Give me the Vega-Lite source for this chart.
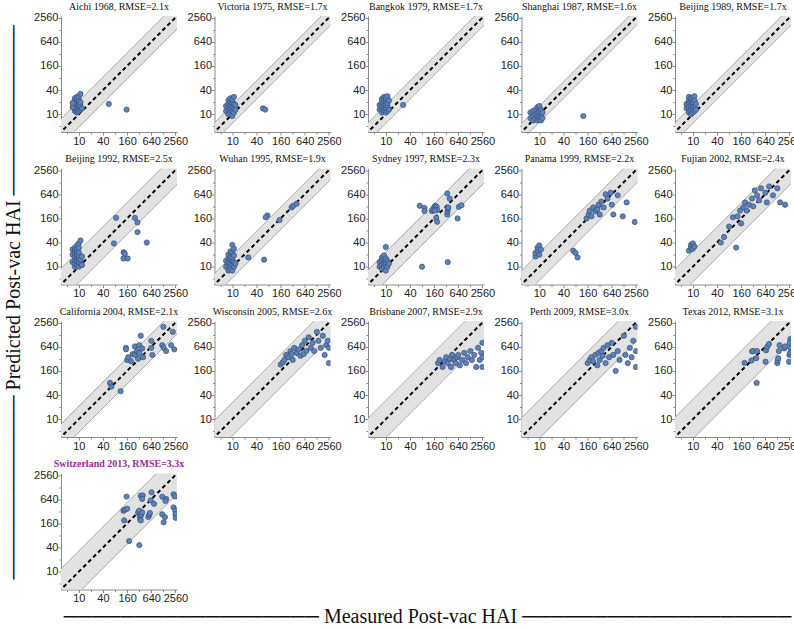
{
"$schema": "https://vega.github.io/schema/vega-lite/v6.json",
"padding": {"left": 3, "top": 1, "right": 0, "bottom": 0},
"title": {"text": "────────────────── Measured Post-vac HAI ───────────────────", "orient": "bottom", "anchor": "middle", "font": "Liberation Serif, DejaVu Sans", "fontSize": 20, "fontWeight": "normal", "color": "#111", "offset": 3, "dx": 25},
"vconcat": [{
"title": {"text": "───────────── Predicted Post-vac HAI ────────────", "orient": "left", "anchor": "middle", "font": "Liberation Serif, DejaVu Sans", "fontSize": 20, "fontWeight": "normal", "color": "#111", "offset": 10},
"data": {"values": [
{"p":1,"bx":1,"lo":0.476,"hi":2.1},{"p":1,"bx":10000,"lo":4762,"hi":21000},
{"p":2,"bx":1,"lo":0.588,"hi":1.7},{"p":2,"bx":10000,"lo":5882,"hi":17000},
{"p":3,"bx":1,"lo":0.588,"hi":1.7},{"p":3,"bx":10000,"lo":5882,"hi":17000},
{"p":4,"bx":1,"lo":0.625,"hi":1.6},{"p":4,"bx":10000,"lo":6250,"hi":16000},
{"p":5,"bx":1,"lo":0.588,"hi":1.7},{"p":5,"bx":10000,"lo":5882,"hi":17000},
{"p":6,"bx":1,"lo":0.4,"hi":2.5},{"p":6,"bx":10000,"lo":4000,"hi":25000},
{"p":7,"bx":1,"lo":0.526,"hi":1.9},{"p":7,"bx":10000,"lo":5263,"hi":19000},
{"p":8,"bx":1,"lo":0.435,"hi":2.3},{"p":8,"bx":10000,"lo":4348,"hi":23000},
{"p":9,"bx":1,"lo":0.455,"hi":2.2},{"p":9,"bx":10000,"lo":4545,"hi":22000},
{"p":10,"bx":1,"lo":0.417,"hi":2.4},{"p":10,"bx":10000,"lo":4167,"hi":24000},
{"p":11,"bx":1,"lo":0.476,"hi":2.1},{"p":11,"bx":10000,"lo":4762,"hi":21000},
{"p":12,"bx":1,"lo":0.385,"hi":2.6},{"p":12,"bx":10000,"lo":3846,"hi":26000},
{"p":13,"bx":1,"lo":0.345,"hi":2.9},{"p":13,"bx":10000,"lo":3448,"hi":29000},
{"p":14,"bx":1,"lo":0.333,"hi":3.0},{"p":14,"bx":10000,"lo":3333,"hi":30000},
{"p":15,"bx":1,"lo":0.323,"hi":3.1},{"p":15,"bx":10000,"lo":3226,"hi":31000},
{"p":16,"bx":1,"lo":0.303,"hi":3.3},{"p":16,"bx":10000,"lo":3030,"hi":33000},
{"p":1,"x":8,"y":12},{"p":1,"x":8,"y":14},{"p":1,"x":8,"y":16},{"p":1,"x":8,"y":18},{"p":1,"x":8,"y":20},{"p":1,"x":8,"y":22},{"p":1,"x":8,"y":25},{"p":1,"x":9,"y":11},{"p":1,"x":9,"y":13},{"p":1,"x":9,"y":15},{"p":1,"x":9,"y":17},{"p":1,"x":9,"y":19},{"p":1,"x":9,"y":21},{"p":1,"x":9,"y":24},{"p":1,"x":9,"y":27},{"p":1,"x":10,"y":12},{"p":1,"x":10,"y":14},{"p":1,"x":10,"y":16},{"p":1,"x":10,"y":18},{"p":1,"x":10,"y":22},{"p":1,"x":10,"y":28},{"p":1,"x":11,"y":13},{"p":1,"x":11,"y":16},{"p":1,"x":11,"y":20},{"p":1,"x":11,"y":32},{"p":1,"x":7,"y":15},{"p":1,"x":7,"y":19},{"p":1,"x":12,"y":14},{"p":1,"x":56,"y":18},{"p":1,"x":155,"y":13},
{"p":2,"x":7,"y":12},{"p":2,"x":7,"y":16},{"p":2,"x":8,"y":10},{"p":2,"x":8,"y":13},{"p":2,"x":8,"y":15},{"p":2,"x":8,"y":18},{"p":2,"x":8,"y":22},{"p":2,"x":9,"y":11},{"p":2,"x":9,"y":14},{"p":2,"x":9,"y":17},{"p":2,"x":9,"y":20},{"p":2,"x":9,"y":25},{"p":2,"x":10,"y":9},{"p":2,"x":10,"y":12},{"p":2,"x":10,"y":15},{"p":2,"x":10,"y":19},{"p":2,"x":10,"y":23},{"p":2,"x":11,"y":11},{"p":2,"x":11,"y":14},{"p":2,"x":11,"y":18},{"p":2,"x":11,"y":27},{"p":2,"x":12,"y":13},{"p":2,"x":12,"y":17},{"p":2,"x":58,"y":14},{"p":2,"x":66,"y":13},
{"p":3,"x":7,"y":13},{"p":3,"x":7,"y":17},{"p":3,"x":8,"y":11},{"p":3,"x":8,"y":14},{"p":3,"x":8,"y":16},{"p":3,"x":8,"y":20},{"p":3,"x":8,"y":24},{"p":3,"x":9,"y":12},{"p":3,"x":9,"y":15},{"p":3,"x":9,"y":18},{"p":3,"x":9,"y":22},{"p":3,"x":9,"y":27},{"p":3,"x":10,"y":11},{"p":3,"x":10,"y":14},{"p":3,"x":10,"y":17},{"p":3,"x":10,"y":21},{"p":3,"x":10,"y":25},{"p":3,"x":11,"y":12},{"p":3,"x":11,"y":16},{"p":3,"x":11,"y":19},{"p":3,"x":11,"y":28},{"p":3,"x":12,"y":13},{"p":3,"x":12,"y":22},{"p":3,"x":27,"y":17},
{"p":4,"x":6,"y":8},{"p":4,"x":6,"y":11},{"p":4,"x":7,"y":7},{"p":4,"x":7,"y":9},{"p":4,"x":7,"y":12},{"p":4,"x":8,"y":8},{"p":4,"x":8,"y":10},{"p":4,"x":8,"y":13},{"p":4,"x":9,"y":7},{"p":4,"x":9,"y":9},{"p":4,"x":9,"y":11},{"p":4,"x":9,"y":15},{"p":4,"x":10,"y":8},{"p":4,"x":10,"y":10},{"p":4,"x":10,"y":12},{"p":4,"x":10,"y":16},{"p":4,"x":11,"y":7},{"p":4,"x":11,"y":9},{"p":4,"x":11,"y":13},{"p":4,"x":12,"y":8},{"p":4,"x":12,"y":11},{"p":4,"x":125,"y":9},
{"p":5,"x":7,"y":14},{"p":5,"x":7,"y":18},{"p":5,"x":8,"y":11},{"p":5,"x":8,"y":15},{"p":5,"x":8,"y":19},{"p":5,"x":8,"y":23},{"p":5,"x":8,"y":27},{"p":5,"x":9,"y":10},{"p":5,"x":9,"y":13},{"p":5,"x":9,"y":16},{"p":5,"x":9,"y":21},{"p":5,"x":9,"y":25},{"p":5,"x":10,"y":11},{"p":5,"x":10,"y":14},{"p":5,"x":10,"y":17},{"p":5,"x":10,"y":20},{"p":5,"x":10,"y":26},{"p":5,"x":11,"y":12},{"p":5,"x":11,"y":15},{"p":5,"x":11,"y":22},{"p":5,"x":11,"y":28},{"p":5,"x":12,"y":13},{"p":5,"x":12,"y":18},
{"p":6,"x":7,"y":13},{"p":6,"x":7,"y":20},{"p":6,"x":7,"y":27},{"p":6,"x":8,"y":10},{"p":6,"x":8,"y":12},{"p":6,"x":8,"y":15},{"p":6,"x":8,"y":18},{"p":6,"x":8,"y":22},{"p":6,"x":8,"y":26},{"p":6,"x":8,"y":30},{"p":6,"x":9,"y":11},{"p":6,"x":9,"y":14},{"p":6,"x":9,"y":17},{"p":6,"x":9,"y":20},{"p":6,"x":9,"y":24},{"p":6,"x":9,"y":28},{"p":6,"x":9,"y":34},{"p":6,"x":10,"y":10},{"p":6,"x":10,"y":13},{"p":6,"x":10,"y":16},{"p":6,"x":10,"y":19},{"p":6,"x":10,"y":23},{"p":6,"x":10,"y":30},{"p":6,"x":10,"y":38},{"p":6,"x":11,"y":12},{"p":6,"x":11,"y":15},{"p":6,"x":11,"y":45},{"p":6,"x":12,"y":11},{"p":6,"x":12,"y":18},{"p":6,"x":85,"y":165},{"p":6,"x":75,"y":38},{"p":6,"x":250,"y":165},{"p":6,"x":290,"y":127},{"p":6,"x":290,"y":73},{"p":6,"x":131,"y":23},{"p":6,"x":140,"y":21},{"p":6,"x":130,"y":16},{"p":6,"x":165,"y":16},{"p":6,"x":494,"y":40},
{"p":7,"x":7,"y":10},{"p":7,"x":7,"y":14},{"p":7,"x":8,"y":8},{"p":7,"x":8,"y":11},{"p":7,"x":8,"y":13},{"p":7,"x":8,"y":16},{"p":7,"x":8,"y":20},{"p":7,"x":9,"y":9},{"p":7,"x":9,"y":12},{"p":7,"x":9,"y":15},{"p":7,"x":9,"y":18},{"p":7,"x":9,"y":24},{"p":7,"x":10,"y":8},{"p":7,"x":10,"y":11},{"p":7,"x":10,"y":14},{"p":7,"x":10,"y":17},{"p":7,"x":10,"y":22},{"p":7,"x":10,"y":35},{"p":7,"x":11,"y":10},{"p":7,"x":11,"y":13},{"p":7,"x":11,"y":19},{"p":7,"x":11,"y":28},{"p":7,"x":12,"y":12},{"p":7,"x":75,"y":190},{"p":7,"x":68,"y":170},{"p":7,"x":150,"y":145},{"p":7,"x":300,"y":300},{"p":7,"x":330,"y":330},{"p":7,"x":25,"y":17},{"p":7,"x":62,"y":15},{"p":7,"x":400,"y":370},
{"p":8,"x":7,"y":10},{"p":8,"x":7,"y":13},{"p":8,"x":8,"y":9},{"p":8,"x":8,"y":11},{"p":8,"x":8,"y":14},{"p":8,"x":8,"y":17},{"p":8,"x":9,"y":10},{"p":8,"x":9,"y":12},{"p":8,"x":9,"y":15},{"p":8,"x":9,"y":19},{"p":8,"x":10,"y":8},{"p":8,"x":10,"y":11},{"p":8,"x":10,"y":13},{"p":8,"x":10,"y":16},{"p":8,"x":11,"y":10},{"p":8,"x":11,"y":14},{"p":8,"x":12,"y":12},{"p":8,"x":10,"y":31},{"p":8,"x":80,"y":10},{"p":8,"x":350,"y":13},{"p":8,"x":70,"y":330},{"p":8,"x":92,"y":294},{"p":8,"x":92,"y":243},{"p":8,"x":142,"y":243},{"p":8,"x":150,"y":260},{"p":8,"x":160,"y":300},{"p":8,"x":170,"y":330},{"p":8,"x":175,"y":280},{"p":8,"x":185,"y":310},{"p":8,"x":190,"y":260},{"p":8,"x":165,"y":250},{"p":8,"x":180,"y":165},{"p":8,"x":190,"y":132},{"p":8,"x":340,"y":667},{"p":8,"x":390,"y":500},{"p":8,"x":340,"y":200},{"p":8,"x":345,"y":240},{"p":8,"x":350,"y":280},{"p":8,"x":360,"y":300},{"p":8,"x":615,"y":160},{"p":8,"x":660,"y":310},{"p":8,"x":770,"y":340},
{"p":9,"x":8,"y":18},{"p":9,"x":8,"y":22},{"p":9,"x":9,"y":25},{"p":9,"x":9,"y":30},{"p":9,"x":10,"y":20},{"p":9,"x":10,"y":34},{"p":9,"x":11,"y":27},{"p":9,"x":70,"y":25},{"p":9,"x":80,"y":22},{"p":9,"x":90,"y":17},{"p":9,"x":150,"y":160},{"p":9,"x":170,"y":200},{"p":9,"x":180,"y":250},{"p":9,"x":200,"y":180},{"p":9,"x":220,"y":300},{"p":9,"x":250,"y":240},{"p":9,"x":280,"y":270},{"p":9,"x":300,"y":350},{"p":9,"x":320,"y":200},{"p":9,"x":350,"y":420},{"p":9,"x":400,"y":300},{"p":9,"x":450,"y":640},{"p":9,"x":500,"y":500},{"p":9,"x":600,"y":700},{"p":9,"x":640,"y":350},{"p":9,"x":700,"y":200},{"p":9,"x":900,"y":600},{"p":9,"x":1200,"y":180},{"p":9,"x":1500,"y":400},{"p":9,"x":2400,"y":130},
{"p":10,"x":8,"y":25},{"p":10,"x":9,"y":30},{"p":10,"x":9,"y":35},{"p":10,"x":10,"y":28},{"p":10,"x":10,"y":38},{"p":10,"x":11,"y":32},{"p":10,"x":50,"y":40},{"p":10,"x":60,"y":55},{"p":10,"x":80,"y":100},{"p":10,"x":100,"y":170},{"p":10,"x":120,"y":30},{"p":10,"x":130,"y":180},{"p":10,"x":150,"y":250},{"p":10,"x":160,"y":120},{"p":10,"x":180,"y":300},{"p":10,"x":200,"y":400},{"p":10,"x":220,"y":250},{"p":10,"x":250,"y":350},{"p":10,"x":300,"y":500},{"p":10,"x":320,"y":320},{"p":10,"x":350,"y":800},{"p":10,"x":400,"y":600},{"p":10,"x":450,"y":450},{"p":10,"x":500,"y":900},{"p":10,"x":640,"y":700},{"p":10,"x":700,"y":400},{"p":10,"x":800,"y":1000},{"p":10,"x":1000,"y":600},{"p":10,"x":1280,"y":900},{"p":10,"x":1500,"y":400},{"p":10,"x":2000,"y":350},
{"p":11,"x":60,"y":80},{"p":11,"x":65,"y":65},{"p":11,"x":110,"y":50},{"p":11,"x":150,"y":600},{"p":11,"x":150,"y":550},{"p":11,"x":160,"y":300},{"p":11,"x":170,"y":350},{"p":11,"x":200,"y":280},{"p":11,"x":220,"y":420},{"p":11,"x":250,"y":400},{"p":11,"x":250,"y":650},{"p":11,"x":280,"y":500},{"p":11,"x":300,"y":320},{"p":11,"x":320,"y":450},{"p":11,"x":320,"y":700},{"p":11,"x":350,"y":1200},{"p":11,"x":380,"y":580},{"p":11,"x":400,"y":350},{"p":11,"x":640,"y":900},{"p":11,"x":640,"y":600},{"p":11,"x":680,"y":400},{"p":11,"x":1280,"y":2000},{"p":11,"x":1200,"y":700},{"p":11,"x":1300,"y":600},{"p":11,"x":1500,"y":500},{"p":11,"x":2000,"y":700},{"p":11,"x":2400,"y":550},{"p":11,"x":2200,"y":1500},
{"p":12,"x":160,"y":230},{"p":12,"x":180,"y":260},{"p":12,"x":200,"y":300},{"p":12,"x":220,"y":400},{"p":12,"x":250,"y":350},{"p":12,"x":280,"y":500},{"p":12,"x":300,"y":420},{"p":12,"x":320,"y":300},{"p":12,"x":350,"y":600},{"p":12,"x":400,"y":450},{"p":12,"x":450,"y":550},{"p":12,"x":500,"y":380},{"p":12,"x":550,"y":700},{"p":12,"x":600,"y":420},{"p":12,"x":640,"y":900},{"p":12,"x":700,"y":500},{"p":12,"x":800,"y":1100},{"p":12,"x":900,"y":600},{"p":12,"x":1000,"y":800},{"p":12,"x":1100,"y":500},{"p":12,"x":1280,"y":1500},{"p":12,"x":1400,"y":900},{"p":12,"x":1600,"y":600},{"p":12,"x":1800,"y":1200},{"p":12,"x":2000,"y":400},{"p":12,"x":2200,"y":700},{"p":12,"x":2400,"y":900},{"p":12,"x":2560,"y":250},{"p":12,"x":2560,"y":600},
{"p":13,"x":200,"y":250},{"p":13,"x":220,"y":300},{"p":13,"x":260,"y":200},{"p":13,"x":300,"y":280},{"p":13,"x":320,"y":350},{"p":13,"x":350,"y":250},{"p":13,"x":400,"y":320},{"p":13,"x":420,"y":200},{"p":13,"x":450,"y":400},{"p":13,"x":500,"y":300},{"p":13,"x":550,"y":250},{"p":13,"x":600,"y":350},{"p":13,"x":640,"y":400},{"p":13,"x":700,"y":220},{"p":13,"x":800,"y":300},{"p":13,"x":900,"y":450},{"p":13,"x":1000,"y":250},{"p":13,"x":1100,"y":350},{"p":13,"x":1280,"y":500},{"p":13,"x":1400,"y":300},{"p":13,"x":1600,"y":400},{"p":13,"x":1800,"y":200},{"p":13,"x":2000,"y":600},{"p":13,"x":2200,"y":300},{"p":13,"x":2400,"y":450},{"p":13,"x":2560,"y":350},{"p":13,"x":2560,"y":200},{"p":13,"x":2560,"y":800},
{"p":14,"x":160,"y":250},{"p":14,"x":180,"y":300},{"p":14,"x":200,"y":350},{"p":14,"x":220,"y":280},{"p":14,"x":250,"y":400},{"p":14,"x":280,"y":220},{"p":14,"x":300,"y":450},{"p":14,"x":320,"y":300},{"p":14,"x":350,"y":500},{"p":14,"x":380,"y":380},{"p":14,"x":400,"y":600},{"p":14,"x":450,"y":250},{"p":14,"x":500,"y":700},{"p":14,"x":550,"y":350},{"p":14,"x":640,"y":800},{"p":14,"x":700,"y":400},{"p":14,"x":800,"y":160},{"p":14,"x":900,"y":500},{"p":14,"x":1000,"y":300},{"p":14,"x":1280,"y":1200},{"p":14,"x":1400,"y":400},{"p":14,"x":1600,"y":250},{"p":14,"x":1800,"y":600},{"p":14,"x":2000,"y":350},{"p":14,"x":2200,"y":900},{"p":14,"x":2560,"y":2000},{"p":14,"x":2560,"y":500},{"p":14,"x":2560,"y":200},
{"p":15,"x":195,"y":253},{"p":15,"x":300,"y":490},{"p":15,"x":320,"y":500},{"p":15,"x":290,"y":290},{"p":15,"x":400,"y":500},{"p":15,"x":380,"y":330},{"p":15,"x":390,"y":80},{"p":15,"x":650,"y":270},{"p":15,"x":670,"y":520},{"p":15,"x":720,"y":640},{"p":15,"x":790,"y":750},{"p":15,"x":1280,"y":250},{"p":15,"x":1300,"y":290},{"p":15,"x":1350,"y":330},{"p":15,"x":1400,"y":500},{"p":15,"x":1450,"y":700},{"p":15,"x":1900,"y":580},{"p":15,"x":2000,"y":650},{"p":15,"x":2500,"y":270},{"p":15,"x":2560,"y":400},{"p":15,"x":2700,"y":1000},{"p":15,"x":2700,"y":600},{"p":15,"x":2650,"y":450},{"p":15,"x":2600,"y":800},
{"p":16,"x":155,"y":745},{"p":16,"x":130,"y":330},{"p":16,"x":140,"y":350},{"p":16,"x":160,"y":370},{"p":16,"x":135,"y":190},{"p":16,"x":180,"y":58},{"p":16,"x":322,"y":46},{"p":16,"x":300,"y":300},{"p":16,"x":320,"y":330},{"p":16,"x":330,"y":240},{"p":16,"x":340,"y":200},{"p":16,"x":350,"y":190},{"p":16,"x":360,"y":260},{"p":16,"x":380,"y":300},{"p":16,"x":350,"y":780},{"p":16,"x":390,"y":800},{"p":16,"x":380,"y":650},{"p":16,"x":540,"y":230},{"p":16,"x":570,"y":260},{"p":16,"x":590,"y":290},{"p":16,"x":650,"y":950},{"p":16,"x":620,"y":600},{"p":16,"x":750,"y":490},{"p":16,"x":1200,"y":740},{"p":16,"x":1200,"y":270},{"p":16,"x":1300,"y":170},{"p":16,"x":1400,"y":230},{"p":16,"x":1500,"y":650},{"p":16,"x":1450,"y":580},{"p":16,"x":2300,"y":850},{"p":16,"x":2500,"y":750},{"p":16,"x":2300,"y":400},{"p":16,"x":2550,"y":330},{"p":16,"x":2560,"y":270},{"p":16,"x":2600,"y":220}
]},
"columns": 5,
"bounds": "flush",
"spacing": {"column": 37.5, "row": 36.5},
"facet": {"field": "p", "type": "ordinal", "sort": "ascending",
  "header": {"title": null, "labelFont": "Liberation Serif", "labelFontSize": 10, "labelPadding": 0,
    "labelExpr": "['', 'Aichi 1968, RMSE=2.1x', 'Victoria 1975, RMSE=1.7x', 'Bangkok 1979, RMSE=1.7x', 'Shanghai 1987, RMSE=1.6x', 'Beijing 1989, RMSE=1.7x', 'Beijing 1992, RMSE=2.5x', 'Wuhan 1995, RMSE=1.9x', 'Sydney 1997, RMSE=2.3x', 'Panama 1999, RMSE=2.2x', 'Fujian 2002, RMSE=2.4x', 'California 2004, RMSE=2.1x', 'Wisconsin 2005, RMSE=2.6x', 'Brisbane 2007, RMSE=2.9x', 'Perth 2009, RMSE=3.0x', 'Texas 2012, RMSE=3.1x', 'Switzerland 2013, RMSE=3.3x'][datum.value]",
    "labelColor": {"expr": "parent.p == 16 ? '#952e95' : '#111'"},
    "labelFontWeight": {"expr": "parent.p == 16 ? 'bold' : 'normal'"}}},
"resolve": {"axis": {"x": "independent", "y": "independent"}},
"spec": {
  "width": 116, "height": 116,
  "encoding": {},
  "layer": [
    {"transform": [{"filter": "isValid(datum.bx)"}],
     "mark": {"type": "area", "clip": true, "color": "#e2e2e2", "opacity": 1},
     "encoding": {
       "x": {"field": "bx", "type": "quantitative", "scale": {"type": "log", "base": 2, "domain": [3.6, 2800], "nice": false}, "title": null,
         "axis": {"values": [5,10,20,40,80,160,320,640,1280,2560], "format": "d", "labelExpr": "indexof([10,40,160,640,2560], datum.value) >= 0 ? datum.label : ''", "labelOverlap": false, "labelFlush": false, "tickSize": {"condition": {"test": "indexof([10,40,160,640,2560], datum.value) >= 0", "value": 3}, "value": 2}}},
       "y": {"field": "lo", "type": "quantitative", "scale": {"type": "log", "base": 2, "domain": [3.6, 2800], "nice": false}, "title": null,
         "axis": {"values": [5,10,20,40,80,160,320,640,1280,2560], "format": "d", "labelExpr": "indexof([10,40,160,640,2560], datum.value) >= 0 ? datum.label : ''", "labelOverlap": false, "labelFlush": false, "tickSize": {"condition": {"test": "indexof([10,40,160,640,2560], datum.value) >= 0", "value": 3}, "value": 2}}},
       "y2": {"field": "hi"}
     }},
    {"transform": [{"filter": "isValid(datum.bx)"}],
     "mark": {"type": "line", "clip": true, "color": "#999", "strokeWidth": 0.8},
     "encoding": {"x": {"field": "bx", "type": "quantitative"}, "y": {"field": "lo", "type": "quantitative"}}},
    {"transform": [{"filter": "isValid(datum.bx)"}],
     "mark": {"type": "line", "clip": true, "color": "#999", "strokeWidth": 0.8},
     "encoding": {"x": {"field": "bx", "type": "quantitative"}, "y": {"field": "hi", "type": "quantitative"}}},
    {"transform": [{"filter": "isValid(datum.bx)"}],
     "mark": {"type": "line", "clip": true, "color": "#000", "strokeWidth": 2, "strokeDash": [4, 3]},
     "encoding": {"x": {"field": "bx", "type": "quantitative"}, "y": {"field": "bx", "type": "quantitative"}}},
    {"transform": [{"filter": "isValid(datum.x)"}],
     "mark": {"type": "circle", "clip": true, "size": 28, "fill": "#5e82b8", "stroke": "#2e4670", "strokeWidth": 0.6, "opacity": 1},
     "encoding": {"x": {"field": "x", "type": "quantitative"}, "y": {"field": "y", "type": "quantitative"}}}
  ]
}
}],
"config": {
  "view": {"stroke": null},
  "axis": {"grid": false, "domainColor": "#8a8a8a", "tickColor": "#8a8a8a", "labelFont": "Liberation Sans", "labelFontSize": 11, "labelColor": "#222", "labelPadding": 0},
  "header": {"labelFont": "Liberation Serif"}
}
}
